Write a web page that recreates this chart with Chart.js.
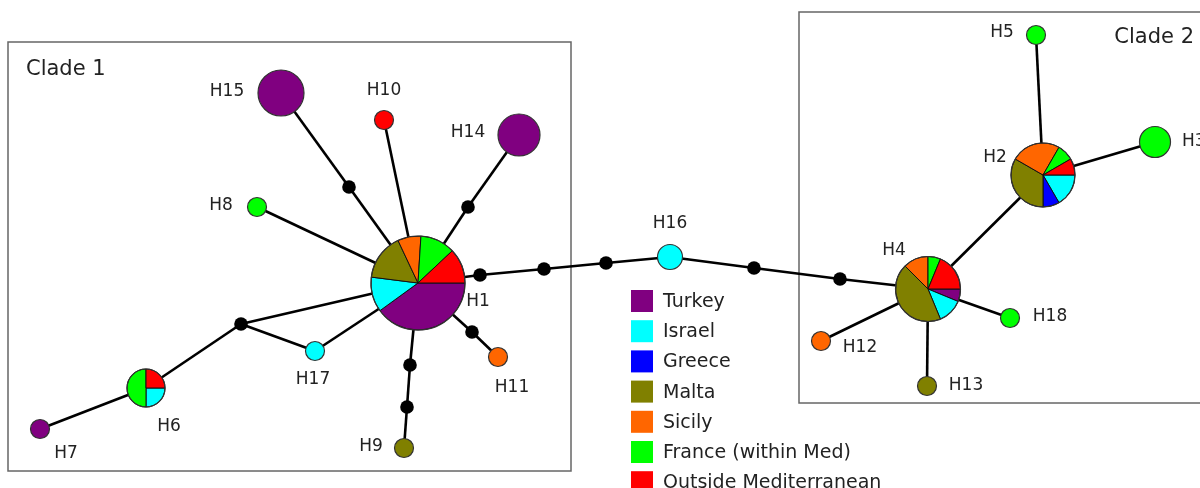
<!DOCTYPE html>
<html>
<head>
<meta charset="utf-8">
<script src="https://cdn.jsdelivr.net/npm/chart.js@4.4.0/dist/chart.umd.min.js"></script>
<style>
  html, body { margin: 0; padding: 0; background: #fff; }
  #wrap { width: 1200px; height: 488px; }
</style>
</head>
<body>
<div id="wrap"><canvas id="networkChart" width="1200" height="488"></canvas></div>
<script>
// regions (legend order = slice order, clockwise from 3 o'clock)
const regions = ["Turkey", "Israel", "Greece", "Malta", "Sicily", "France (within Med)", "Outside Mediterranean"];
const regionColors = ["#800080", "#00ffff", "#0000ff", "#808000", "#ff6600", "#00ff00", "#ff0000"];

const haplotypes = ["H1", "H2", "H3", "H4", "H5", "H6", "H7", "H8", "H9",
                    "H10", "H11", "H12", "H13", "H14", "H15", "H16", "H17", "H18"];

// sample counts per haplotype, one array per region
const turkeyCounts  = [10, 0, 0, 1, 0, 0, 1, 0, 0, 0, 0, 0, 0, 5, 6, 0, 0, 0];
const israelCounts  = [3, 2, 0, 2, 0, 1, 0, 0, 0, 0, 0, 0, 0, 0, 0, 2, 1, 0];
const greeceCounts  = [0, 1, 0, 0, 0, 0, 0, 0, 0, 0, 0, 0, 0, 0, 0, 0, 0, 0];
const maltaCounts   = [4, 4, 0, 7, 0, 0, 0, 0, 1, 0, 0, 0, 1, 0, 0, 0, 0, 0];
const sicilyCounts  = [2, 3, 0, 2, 0, 0, 0, 0, 0, 0, 1, 1, 0, 0, 0, 0, 0, 0];
const franceCounts  = [3, 1, 3, 1, 1, 2, 0, 1, 0, 0, 0, 0, 0, 0, 0, 0, 0, 1];
const outsideCounts = [3, 1, 0, 3, 0, 1, 0, 0, 0, 1, 0, 0, 0, 0, 0, 0, 0, 0];
const regionCounts = [turkeyCounts, israelCounts, greeceCounts, maltaCounts, sicilyCounts, franceCounts, outsideCounts];

// unsampled median vectors
const medianVectors = ["mv1", "mv2", "mv3", "mv4", "mv5", "mv6", "mv7", "mv8", "mv9", "mv10", "mv11"];

// network links (one mutational step each)
const edges = [
  ["H1", "mv1"], ["mv1", "H15"], ["H1", "H10"], ["H1", "mv2"], ["mv2", "H14"],
  ["H1", "H8"], ["H1", "mv3"], ["mv3", "H6"], ["mv3", "H17"], ["H1", "H17"],
  ["H6", "H7"], ["H1", "mv4"], ["mv4", "H11"], ["H1", "mv5"], ["mv5", "mv6"],
  ["mv6", "H9"], ["H1", "mv7"], ["mv7", "mv8"], ["mv8", "mv9"], ["mv9", "H16"],
  ["H16", "mv10"], ["mv10", "mv11"], ["mv11", "H4"], ["H4", "H2"], ["H2", "H5"],
  ["H2", "H3"], ["H4", "H18"], ["H4", "H12"], ["H4", "H13"]
];

// ---- drawing layout (scale units = pixels of the figure) ----
const hapX = [418, 1043, 1155, 928, 1036, 146, 40, 257, 404, 384, 498, 821, 927, 519, 281, 670, 315, 1010];
const hapY = [283, 175, 142, 289, 35, 388, 429, 207, 448, 120, 357, 341, 386, 135, 93, 257, 351, 318];
const hapRadius = [47, 32, 15.5, 32.5, 9.5, 19, 9.5, 9.5, 9.5, 9.5, 9.5, 9.5, 9.5, 21, 23, 12.5, 9.5, 9.5];
const labelX = [478, 995, 1182, 894, 1002, 169, 66, 221, 371, 384, 512, 860, 966, 468, 227, 670, 313, 1050];
const labelY = [302, 158, 142, 251, 33, 427, 454, 206, 447, 91, 388, 348, 386, 133, 92, 224, 380, 317];
const medianX = [349, 468, 241, 472, 410, 407, 480, 544, 606, 754, 840];
const medianY = [187, 207, 324, 332, 365, 407, 275, 269, 263, 268, 279];

const FONT = "'DejaVu Sans', Verdana, sans-serif";

function nodePos(id) {
  let i = haplotypes.indexOf(id);
  if (i >= 0) return { x: hapX[i], y: hapY[i] };
  i = medianVectors.indexOf(id);
  return { x: medianX[i], y: medianY[i] };
}

const edgeDatasets = edges.map(([a, b]) => ({
  data: [nodePos(a), nodePos(b)],
  showLine: true,
  borderColor: "#000",
  borderWidth: 2.6,
  pointRadius: 0,
  order: 3
}));

const medianDataset = {
  data: medianVectors.map((id) => nodePos(id)),
  pointRadius: 6.8,
  backgroundColor: "#000",
  borderColor: "#000",
  borderWidth: 0,
  order: 2
};

const hapDataset = {
  data: haplotypes.map((id) => nodePos(id)),
  pointRadius: hapRadius,
  backgroundColor: "rgba(0,0,0,0)",
  borderColor: "rgba(0,0,0,0)",
  order: 1
};

// clade boxes drawn behind the network
const cladeBoxes = {
  id: "cladeBoxes",
  beforeDatasetsDraw(chart) {
    const { ctx, scales: { x, y } } = chart;
    const boxes = [
      { x0: 8, y0: 42, x1: 571, y1: 471, label: "Clade 1", lx: 26, ly: 70, align: "left" },
      { x0: 799, y0: 12, x1: 1210, y1: 403, label: "Clade 2", lx: 1194, ly: 38, align: "right" }
    ];
    ctx.save();
    boxes.forEach((b) => {
      const px0 = x.getPixelForValue(b.x0), py0 = y.getPixelForValue(b.y0);
      const px1 = x.getPixelForValue(b.x1), py1 = y.getPixelForValue(b.y1);
      ctx.strokeStyle = "#666";
      ctx.lineWidth = 1.5;
      ctx.strokeRect(px0, py0, px1 - px0, py1 - py0);
      ctx.fillStyle = "#222";
      ctx.font = "21px " + FONT;
      ctx.textAlign = b.align;
      ctx.textBaseline = "middle";
      ctx.fillText(b.label, x.getPixelForValue(b.lx), y.getPixelForValue(b.ly));
    });
    ctx.restore();
  }
};

// pie charts for haplotypes + labels
const pieNodes = {
  id: "pieNodes",
  afterDatasetsDraw(chart) {
    const ctx = chart.ctx;
    const meta = chart.getDatasetMeta(chart.data.datasets.length - 1);
    ctx.save();
    meta.data.forEach((pt, i) => {
      const r = hapRadius[i];
      const counts = regionCounts.map((arr) => arr[i]);
      const total = counts.reduce((s, v) => s + v, 0);
      const used = counts.filter((v) => v > 0).length;
      let a = 0;
      counts.forEach((c, k) => {
        if (!c) return;
        const b = a + (c / total) * Math.PI * 2;
        ctx.beginPath();
        if (used > 1) ctx.moveTo(pt.x, pt.y);
        ctx.arc(pt.x, pt.y, r, a, b);
        ctx.closePath();
        ctx.fillStyle = regionColors[k];
        ctx.fill();
        if (used > 1) {
          ctx.strokeStyle = "#111";
          ctx.lineWidth = 1;
          ctx.stroke();
        }
        a = b;
      });
      ctx.beginPath();
      ctx.arc(pt.x, pt.y, r, 0, Math.PI * 2);
      ctx.strokeStyle = "#333";
      ctx.lineWidth = 1.2;
      ctx.stroke();
    });

    const { x, y } = chart.scales;
    ctx.fillStyle = "#222";
    ctx.font = "17px " + FONT;
    ctx.textBaseline = "middle";
    haplotypes.forEach((h, i) => {
      ctx.textAlign = h === "H3" ? "left" : "center";
      ctx.fillText(h, x.getPixelForValue(labelX[i]), y.getPixelForValue(labelY[i]));
    });
    ctx.restore();
  }
};

// region key
const regionKey = {
  id: "regionKey",
  afterDraw(chart) {
    const { ctx, scales: { x, y } } = chart;
    ctx.save();
    ctx.font = "19px " + FONT;
    ctx.textBaseline = "middle";
    ctx.textAlign = "left";
    regions.forEach((name, i) => {
      const cy = y.getPixelForValue(301 + i * 30.2);
      const sx = x.getPixelForValue(631);
      ctx.fillStyle = regionColors[i];
      ctx.fillRect(sx, cy - 11, 22, 22);
      ctx.fillStyle = "#222";
      ctx.fillText(name, x.getPixelForValue(663), cy + 1);
    });
    ctx.restore();
  }
};

const canvas = document.getElementById("networkChart");
new Chart(canvas.getContext("2d"), {
  type: "scatter",
  data: { datasets: [...edgeDatasets, medianDataset, hapDataset] },
  options: {
    responsive: false,
    animation: false,
    events: [],
    layout: { padding: 0, autoPadding: false },
    plugins: { legend: { display: false }, tooltip: { enabled: false } },
    scales: {
      x: { type: "linear", min: 0, max: 1200, display: false },
      y: { type: "linear", min: 0, max: 488, reverse: true, display: false }
    }
  },
  plugins: [cladeBoxes, pieNodes, regionKey]
});
</script>
</body>
</html>
